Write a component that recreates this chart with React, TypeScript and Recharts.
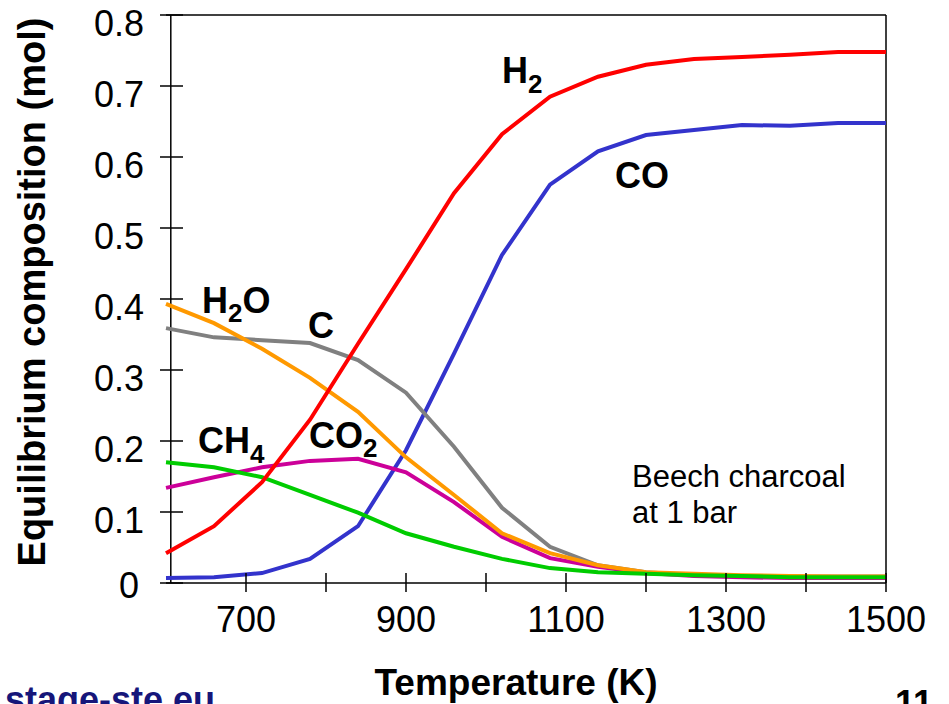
import { LineChart, Line, XAxis, YAxis, ReferenceLine } from 'recharts'

const temperatures = [600, 660, 720, 780, 840, 900, 960, 1020, 1080, 1140, 1200, 1260, 1320, 1380, 1440, 1500]
const h2 = [0.042, 0.08, 0.142, 0.23, 0.337, 0.442, 0.549, 0.632, 0.685, 0.713, 0.73, 0.738, 0.741, 0.744, 0.748, 0.748]
const co = [0.007, 0.008, 0.014, 0.034, 0.08, 0.187, 0.323, 0.462, 0.561, 0.608, 0.631, 0.638, 0.645, 0.644, 0.648, 0.648]
const carbon = [0.359, 0.346, 0.342, 0.338, 0.314, 0.268, 0.192, 0.106, 0.051, 0.025, 0.015, 0.011, 0.009, 0.009, 0.009, 0.009]
const h2o = [0.393, 0.366, 0.33, 0.289, 0.241, 0.177, 0.124, 0.07, 0.042, 0.025, 0.015, 0.013, 0.011, 0.01, 0.009, 0.009]
const co2 = [0.134, 0.149, 0.163, 0.172, 0.175, 0.156, 0.114, 0.065, 0.035, 0.023, 0.014, 0.01, 0.008, 0.007, 0.007, 0.007]
const ch4 = [0.17, 0.163, 0.149, 0.124, 0.099, 0.07, 0.051, 0.034, 0.021, 0.015, 0.013, 0.011, 0.01, 0.008, 0.008, 0.008]

const xTicks = [700, 800, 900, 1000, 1100, 1200, 1300, 1400, 1500]
const xLabelled = [700, 900, 1100, 1300, 1500]
const yTicks = [0, 0.1, 0.2, 0.3, 0.4, 0.5, 0.6, 0.7, 0.8]

const data = temperatures.map((t, i) => ({
  t,
  h2: h2[i],
  co: co[i],
  c: carbon[i],
  h2o: h2o[i],
  co2: co2[i],
  ch4: ch4[i],
}))

const FONT = '"Liberation Sans", Arial, sans-serif'

// x ticks cross the axis; only every other one carries a label
const XTick = (props: any) => {
  const { x, payload } = props
  const v = payload.value
  return (
    <g>
      <line x1={x} x2={x} y1={573} y2={592} stroke="#000" strokeWidth={1.5} />
      {xLabelled.includes(v) && (
        <text x={x} y={632} textAnchor="middle" fontSize={36} fontFamily={FONT} fill="#000">
          {v}
        </text>
      )}
    </g>
  )
}

const YTick = (props: any) => {
  const { y, payload } = props
  const v = payload.value
  const isZero = v === 0
  return (
    <g>
      <line x1={160} x2={183} y1={y} y2={y} stroke="#000" strokeWidth={1.5} />
      <text
        x={isZero ? 139 : 144}
        y={y + (isZero ? 15 : 21)}
        textAnchor="end"
        fontSize={36}
        fontFamily={FONT}
        fill="#000"
      >
        {isZero ? '0' : v.toFixed(1)}
      </text>
    </g>
  )
}

export default function App() {
  const lbl = { fontFamily: FONT, fontWeight: 700, fontSize: 36, fill: '#000' }
  const sub = 26
  return (
    <div style={{ position: 'absolute', left: 0, top: 0, width: 949, height: 704, overflow: 'hidden', background: '#fff' }}>
      <LineChart width={949} height={704} data={data} margin={{ top: 15, right: 63, bottom: 81, left: 106 }}>
        <XAxis
          dataKey="t"
          type="number"
          domain={[600, 1500]}
          ticks={xTicks}
          height={40}
          axisLine={{ stroke: '#000', strokeWidth: 1.5 }}
          tickLine={false}
          tick={<XTick />}
          interval={0}
        />
        <YAxis
          type="number"
          domain={[0, 0.8]}
          ticks={yTicks}
          width={60}
          axisLine={false}
          tickLine={false}
          tick={<YTick />}
          interval={0}
        />
        <ReferenceLine x={606} stroke="#000" strokeWidth={1.5} />
        <ReferenceLine x={1500} stroke="#000" strokeWidth={1.5} />
        <ReferenceLine y={0.8} stroke="#000" strokeWidth={1.5} />
        <Line dataKey="co" stroke="#3333cc" strokeWidth={4} dot={false} isAnimationActive={false} />
        <Line dataKey="c" stroke="#808080" strokeWidth={4} dot={false} isAnimationActive={false} />
        <Line dataKey="co2" stroke="#cc0099" strokeWidth={4} dot={false} isAnimationActive={false} />
        <Line dataKey="h2o" stroke="#ff9900" strokeWidth={4} dot={false} isAnimationActive={false} />
        <Line dataKey="ch4" stroke="#00cc00" strokeWidth={4} dot={false} isAnimationActive={false} />
        <Line dataKey="h2" stroke="#ff0000" strokeWidth={4} dot={false} isAnimationActive={false} />
      </LineChart>
      <svg width={949} height={704} style={{ position: 'absolute', left: 0, top: 0, pointerEvents: 'none' }}>
        <text
          x={45}
          y={292}
          transform="rotate(-90 45 292)"
          textAnchor="middle"
          {...lbl}
          fontSize={38}
        >
          Equilibrium composition (mol)
        </text>
        <text x={516} y={695} textAnchor="middle" {...lbl} fontSize={37}>
          Temperature (K)
        </text>
        <text x={502} y={83} {...lbl}>
          H<tspan fontSize={sub} dy={10}>2</tspan>
        </text>
        <text x={615} y={188} {...lbl}>CO</text>
        <text x={202} y={313} {...lbl}>
          H<tspan fontSize={sub} dy={9}>2</tspan>
          <tspan dy={-9}>O</tspan>
        </text>
        <text x={308} y={338} {...lbl}>C</text>
        <text x={198} y={453} {...lbl}>
          CH<tspan fontSize={sub} dy={10}>4</tspan>
        </text>
        <text x={309} y={448} {...lbl}>
          CO<tspan fontSize={sub} dy={9}>2</tspan>
        </text>
        <text x={632} y={487} fontFamily={FONT} fontSize={31} fill="#000">Beech charcoal</text>
        <text x={632} y={523} fontFamily={FONT} fontSize={31} fill="#000">at 1 bar</text>
        <text x={5} y={712} fontFamily={FONT} fontWeight={700} fontSize={36} fill="#16167a">stage-ste.eu</text>
        <text x={895} y={716} fontFamily={FONT} fontWeight={700} fontSize={36} fill="#000">11</text>
      </svg>
    </div>
  )
}
